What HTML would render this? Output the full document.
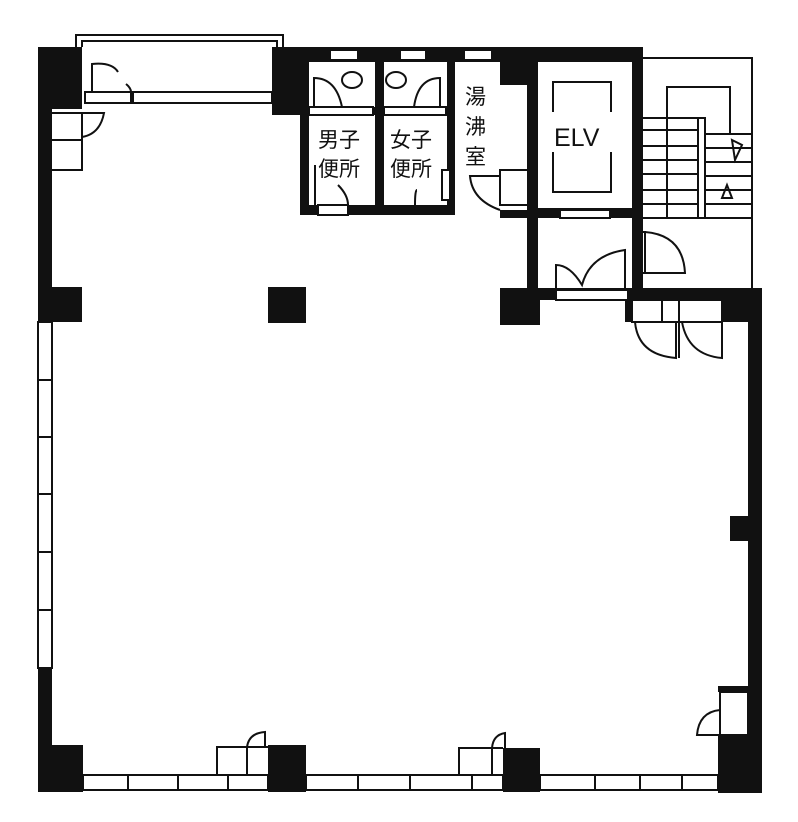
<!DOCTYPE html>
<html><head><meta charset="utf-8"><style>
html,body{margin:0;padding:0;background:#fff;}
svg{display:block;}
text{font-family:"Liberation Sans","Noto Sans CJK JP",sans-serif;fill:#111;}
</style></head><body>
<svg width="798" height="822" viewBox="0 0 798 822" xmlns="http://www.w3.org/2000/svg">
<g fill="#111" stroke="none">
<rect x="38" y="47" width="14" height="745"/>
<rect x="38" y="47" width="44" height="62"/>
<rect x="38" y="287" width="44" height="35"/>
<rect x="38" y="745" width="45" height="47"/>
<rect x="272" y="47" width="34" height="68"/>
<rect x="300" y="47" width="230" height="15"/>
<rect x="300" y="47" width="9" height="168"/>
<rect x="300" y="205" width="155" height="10"/>
<rect x="375" y="47" width="9" height="168"/>
<rect x="447" y="47" width="8" height="168"/>
<rect x="300" y="107" width="155" height="8"/>
<rect x="500" y="47" width="30" height="38"/>
<rect x="527" y="47" width="115" height="15"/>
<rect x="527" y="47" width="11" height="250"/>
<rect x="632" y="47" width="11" height="250"/>
<rect x="527" y="208" width="115" height="10"/>
<rect x="500" y="210" width="30" height="8"/>
<rect x="268" y="287" width="38" height="36"/>
<rect x="500" y="288" width="40" height="37"/>
<rect x="527" y="288" width="115" height="12"/>
<rect x="625" y="288" width="137" height="34"/>
<rect x="748" y="288" width="14" height="505"/>
<rect x="730" y="516" width="20" height="25"/>
<rect x="718" y="686" width="44" height="6"/>
<rect x="718" y="735" width="44" height="58"/>
<rect x="268" y="745" width="38" height="47"/>
<rect x="503" y="748" width="37" height="44"/>
</g>
<g fill="#fff" stroke="#111" stroke-width="2">
<rect x="330" y="50" width="28" height="10"/>
<rect x="400" y="50" width="26" height="10"/>
<rect x="464" y="50" width="28" height="10"/>
<rect x="560" y="210" width="50" height="8"/>
<rect x="556" y="290" width="72" height="10"/>
<rect x="632" y="300" width="90" height="22"/>
<rect x="309" y="107" width="64" height="8"/>
<rect x="384" y="107" width="62" height="8"/>
<rect x="318" y="205" width="30" height="10"/>
<rect x="442" y="170" width="8" height="30"/>
<rect x="720" y="692" width="28" height="43"/>
</g>
<g fill="none" stroke="#111" stroke-width="2">
<path d="M76 47 V35 H283 V47 M82 47 V41 H277 V47"/>
<rect x="85" y="92" width="187" height="11" fill="#fff"/>
<line x1="132" y1="92" x2="132" y2="103" stroke-width="4"/>
<path d="M92 92 V64 Q112 62 118 72"/>
<path d="M126 84 Q131 88 131 92"/>
<path d="M52 113 H82 V170 H52 M52 140 H82"/>
<path d="M82 113 H104 Q100 134 82 137"/>
<ellipse cx="352" cy="80" rx="10" ry="8"/>
<ellipse cx="396" cy="80" rx="10" ry="8"/>
<path d="M314 107 V78 Q336 78 342 107"/>
<path d="M440 107 V78 Q418 78 414 107"/>
<path d="M315 205 V165 M338 185 Q348 195 348 205"/>
<path d="M415 205 Q415 190 417 190"/>
<path d="M500 170 H530 V205 H500 Z"/>
<path d="M500 176 H470 Q472 200 500 210"/>
<path d="M553 112 V82 H611 V112 M553 152 V192 H611 V152"/>
<path d="M556 290 V265 Q570 265 582 285 Q590 255 625 250 V290"/>
<path d="M635 232 H645 V273 H635 Z"/>
<path d="M645 232 Q683 235 685 273 H645"/>
<!-- stairs -->
<path d="M642 58 H752 V290 H642"/>
<path d="M667 218 V87 H730 V134"/>
<path d="M698 218 V118 H705 V218"/>
<path d="M642 118 H698 M642 130 H698 M642 146 H698 M642 160 H698 M642 174 H698 M642 190 H698 M642 204 H698 M705 134 H752 M705 148 H752 M705 162 H752 M705 176 H752 M705 190 H752 M705 204 H752 M642 218 H752"/>
<path d="M732 140 L742 145 L735 160 Z"/>
<path d="M727 185 L722 198 L732 198 Z"/>
<path d="M662 300 V322 M635 322 Q638 355 676 358 V322 M682 322 Q688 355 722 358 V322"/>
<line x1="679" y1="300" x2="679" y2="358"/>
<rect x="38" y="322" width="14" height="346" fill="#fff"/>
<path d="M38 380 H52 M38 437 H52 M38 494 H52 M38 552 H52 M38 610 H52"/>
<rect x="83" y="775" width="185" height="15" fill="#fff"/>
<rect x="306" y="775" width="197" height="15" fill="#fff"/>
<rect x="540" y="775" width="178" height="15" fill="#fff"/>
<path d="M128 775 V790 M178 775 V790 M228 775 V790 M358 775 V790 M410 775 V790 M472 775 V790 M595 775 V790 M640 775 V790 M682 775 V790"/>
<path d="M217 775 V747 H268 M247 747 V775 M247 747 Q249 733 265 732 V747"/>
<path d="M459 775 V748 H503 M492 748 V775 M492 748 Q493 735 505 733 V748"/>
<path d="M720 735 H697 Q699 712 720 710"/>
</g>
<g font-size="21">
<text x="318" y="147">男子</text>
<text x="318" y="176">便所</text>
<text x="390" y="147">女子</text>
<text x="390" y="176">便所</text>
<text x="465" y="104">湯</text>
<text x="465" y="134">沸</text>
<text x="465" y="164">室</text>
</g>
<text x="554" y="146" font-size="25">ELV</text>
</svg>
</body></html>
